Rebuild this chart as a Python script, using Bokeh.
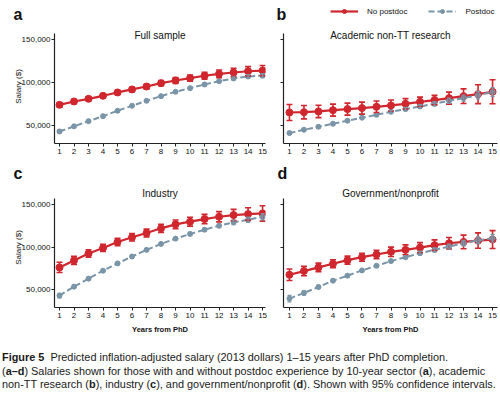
from bokeh.plotting import figure
from bokeh.models import (ColumnDataSource, Whisker, TeeHead, Range1d, FixedTicker,
                          Legend, LegendItem, Label, Div)
from bokeh.layouts import row, column
from bokeh.embed import file_html
from bokeh.resources import INLINE

# ---------------- data ----------------
years = list(range(1, 16))
year_labels = [str(y) for y in years]
salary_ticks = [50000, 100000, 150000]
salary_tick_labels = ["50,000", "100,000", "150,000"]
series_names = ["No postdoc", "Postdoc"]
panel_letters = ["a", "b", "c", "d"]
panel_titles = ["Full sample", "Academic non-TT research", "Industry", "Government/nonprofit"]
x_label = "Years from PhD"
y_label = "Salary ($)"

full_no = [74000, 77900, 81000, 84500, 88400, 91900, 95300, 99200, 102300, 105000, 107800, 110100, 111600, 113100, 113800]
full_no_ci = [2500, 2300, 2200, 2200, 2300, 2500, 2700, 3000, 3300, 3600, 4000, 4400, 4900, 5400, 6000]
full_pd = [43000, 49000, 55000, 60800, 67100, 72900, 78700, 84100, 89200, 93400, 97700, 101500, 104700, 107000, 108000]
full_pd_ci = [1800, 1300, 1000, 900, 900, 900, 1000, 1000, 1100, 1200, 1300, 1500, 1700, 2000, 2400]

acad_no = [65100, 65500, 66300, 67800, 69000, 70200, 71700, 73300, 75200, 77500, 79500, 81800, 84100, 86400, 89200]
acad_no_ci = [9300, 7800, 7200, 7000, 7000, 7000, 6800, 6400, 6000, 5500, 5500, 7000, 8500, 11000, 14000]
acad_pd = [41100, 45000, 48500, 52000, 55500, 59000, 62400, 65900, 69000, 72100, 75200, 78700, 81800, 85300, 88800]
acad_pd_ci = [1500, 1300, 1200, 1200, 1200, 1300, 1400, 1600, 1800, 2100, 2500, 3000, 3600, 4300, 5200]

ind_no = [76100, 84300, 92400, 99000, 106000, 111500, 116500, 122000, 126700, 129800, 132900, 135600, 137600, 138700, 139500]
ind_no_ci = [6000, 4700, 4400, 4300, 4300, 4400, 4600, 4800, 5000, 5200, 5500, 6000, 6600, 7400, 9000]
ind_pd = [43000, 53500, 62900, 72200, 80800, 88900, 96700, 103700, 109900, 115400, 120400, 125100, 129000, 132100, 135600]
ind_pd_ci = [2700, 1800, 1400, 1200, 1200, 1200, 1300, 1400, 1500, 1700, 1900, 2200, 2600, 3000, 3600]

gov_no = [67500, 71800, 76100, 80400, 84600, 88100, 91300, 94400, 96700, 99400, 102200, 104500, 106000, 107600, 108800]
gov_no_ci = [6800, 5500, 5000, 4700, 4700, 4700, 5000, 5500, 5800, 5800, 6200, 6800, 8000, 9000, 10500]
gov_pd = [39500, 46100, 53100, 60500, 66400, 72600, 78000, 83500, 88100, 92800, 96700, 100600, 104500, 108000, 110300]
gov_pd_ci = [3800, 2500, 1900, 1600, 1500, 1500, 1500, 1600, 1800, 2000, 2300, 2700, 3200, 3800, 4500]

RED = "#d0262e"
BLUE = "#7a95a7"
FONT = "Liberation Sans"
Y_MIN, Y_AXIS_MAX = 29000, 157000


def draw_series(p, src_no, src_pd):
    l_no = p.line("x", "y", source=src_no, line_color=RED, line_width=2.2)
    s_no = p.scatter("x", "y", source=src_no, marker="circle", size=7, fill_color=RED, line_color=RED)
    l_pd = p.line("x", "y", source=src_pd, line_color=BLUE, line_width=2, line_dash="6 3")
    s_pd = p.scatter("x", "y", source=src_pd, marker="circle", size=5, fill_color=BLUE, line_color=BLUE)
    return (l_no, s_no), (l_pd, s_pd)


def make_sources(no, no_ci, pd, pd_ci):
    src_no = ColumnDataSource(dict(x=years, y=no,
                                   lo=[v - c for v, c in zip(no, no_ci)],
                                   hi=[v + c for v, c in zip(no, no_ci)]))
    src_pd = ColumnDataSource(dict(x=years, y=pd,
                                   lo=[v - c for v, c in zip(pd, pd_ci)],
                                   hi=[v + c for v, c in zip(pd, pd_ci)]))
    return src_no, src_pd


def make_panel(idx, srcs, width, height, bl, br, bt, bb, xr, y_top, left_labels, bottom_label):
    src_no, src_pd = srcs
    p = figure(width=width, height=height, output_backend="svg", toolbar_location=None, title=None,
               x_range=Range1d(*xr), y_range=Range1d(Y_MIN, y_top),
               min_border_left=bl, min_border_right=br, min_border_top=bt, min_border_bottom=bb)
    p.outline_line_color = None
    p.grid.visible = False
    p.background_fill_color = "white"
    p.border_fill_color = "white"

    p.add_layout(Whisker(source=src_no, base="x", upper="hi", lower="lo", line_color=RED, line_width=1.6,
                         upper_head=TeeHead(size=6, line_color=RED, line_width=1.6),
                         lower_head=TeeHead(size=6, line_color=RED, line_width=1.6), level="glyph"))
    p.add_layout(Whisker(source=src_pd, base="x", upper="hi", lower="lo", line_color=BLUE, line_width=1.3,
                         upper_head=TeeHead(size=4, line_color=BLUE, line_width=1.3),
                         lower_head=TeeHead(size=4, line_color=BLUE, line_width=1.3), level="glyph"))
    draw_series(p, src_no, src_pd)

    # subtitle at the top of the frame
    p.add_layout(Label(x=(xr[0] + xr[1]) / 2, y=y_top, text=panel_titles[idx],
                       text_align="center", text_baseline="top", text_font=FONT,
                       text_font_size="10px", text_color="#111111"))

    p.xaxis.ticker = FixedTicker(ticks=years)
    p.xaxis.major_label_overrides = {y: l for y, l in zip(years, year_labels)}
    p.yaxis.ticker = FixedTicker(ticks=salary_ticks)
    p.yaxis.bounds = (Y_MIN, Y_AXIS_MAX)
    if left_labels:
        p.yaxis.major_label_overrides = {t: l for t, l in zip(salary_ticks, salary_tick_labels)}
        p.yaxis.axis_label = y_label
    else:
        p.yaxis.major_label_overrides = {t: "" for t in salary_ticks}
    if bottom_label:
        p.xaxis.axis_label = x_label
    for ax in (p.xaxis, p.yaxis):
        ax.axis_line_color = "#222222"
        ax.axis_line_width = 1.2
        ax.major_tick_line_color = "#222222"
        ax.major_tick_out = 3
        ax.major_tick_in = 0
        ax.minor_tick_line_color = None
        ax.major_label_text_font = FONT
        ax.major_label_text_font_size = "8px"
        ax.major_label_text_color = "#111111"
        ax.major_label_standoff = 1
        ax.axis_label_text_font = FONT
        ax.axis_label_text_color = "#111111"
    p.xaxis.major_label_standoff = 2
    p.yaxis.axis_label_text_font_size = "8px"
    p.yaxis.axis_label_text_font_style = "normal"
    p.yaxis.axis_label_standoff = -4
    p.xaxis.axis_label_text_font_size = "7.5px"
    p.xaxis.axis_label_text_font_style = "bold"
    p.xaxis.axis_label_standoff = 4
    return p


def make_header(width, height, letters, legend_srcs=None):
    h = figure(width=width, height=height, output_backend="svg", toolbar_location=None, title=None,
               x_range=Range1d(0, width), y_range=Range1d(0, height),
               x_axis_location=None, y_axis_location=None, min_border=0)
    h.outline_line_color = None
    h.grid.visible = False
    for txt, lx, ly in letters:
        h.add_layout(Label(x=lx, y=ly, text=txt, text_align="left", text_baseline="top",
                           text_font=FONT, text_font_size="16px", text_font_style="bold",
                           text_color="#111111"))
    if legend_srcs is not None:
        # series renderers (their values lie far outside this strip, so only the legend shows)
        r_no, r_pd = draw_series(h, *legend_srcs)
        legend = Legend(items=[LegendItem(label=series_names[0], renderers=list(r_no)),
                               LegendItem(label=series_names[1], renderers=list(r_pd))],
                        location=(330, 10), orientation="horizontal", spacing=21,
                        glyph_width=28, glyph_height=10, label_height=10, label_standoff=9,
                        padding=0, margin=0, border_line_color=None, background_fill_alpha=0,
                        label_text_font=FONT, label_text_font_size="8px", label_text_color="#111111")
        h.add_layout(legend, "center")
    return h


srcs_a = make_sources(full_no, full_no_ci, full_pd, full_pd_ci)
srcs_b = make_sources(acad_no, acad_no_ci, acad_pd, acad_pd_ci)
srcs_c = make_sources(ind_no, ind_no_ci, ind_pd, ind_pd_ci)
srcs_d = make_sources(gov_no, gov_no_ci, gov_pd, gov_pd_ci)

header1 = make_header(500, 26, [(panel_letters[0], 13, 21), (panel_letters[1], 276, 21)], srcs_b)
pa = make_panel(0, srcs_a, 269, 135, 54, 4, 3, 18, (0.655, 15.2), 161650, True, False)
pb = make_panel(1, srcs_b, 231, 135, 14, 3, 3, 18, (0.59, 15.34), 161650, False, False)
header2 = make_header(500, 25, [(panel_letters[2], 13, 21.5), (panel_letters[3], 277, 21.5)])
pc = make_panel(2, srcs_c, 269, 152, 54, 4, 1, 31, (0.655, 15.2), 169950, True, True)
pd_ = make_panel(3, srcs_d, 231, 152, 14, 3, 1, 31, (0.59, 15.34), 169950, False, True)

caption_html = (
    "<b>Figure 5</b>&nbsp; Predicted inflation-adjusted salary (2013 dollars) 1\u201315 years after PhD completion.<br>"
    "(<b>a\u2013d</b>) Salaries shown for those with and without postdoc experience by 10-year sector (<b>a</b>), academic<br>"
    "non-TT research (<b>b</b>), industry (<b>c</b>), and government/nonprofit (<b>d</b>). Shown with 95% confidence intervals."
)
caption = Div(text=caption_html, width=500, height=56, margin=0,
              styles={"font-family": FONT, "font-size": "10.9px", "line-height": "13.5px",
                      "color": "#1a1a1a", "white-space": "nowrap", "padding-top": "13px",
                      "padding-left": "2px", "overflow": "visible"})

layout = column(header1, row(pa, pb), header2, row(pc, pd_), caption)

with open("out.html", "w") as f:
    f.write(file_html(layout, INLINE))
